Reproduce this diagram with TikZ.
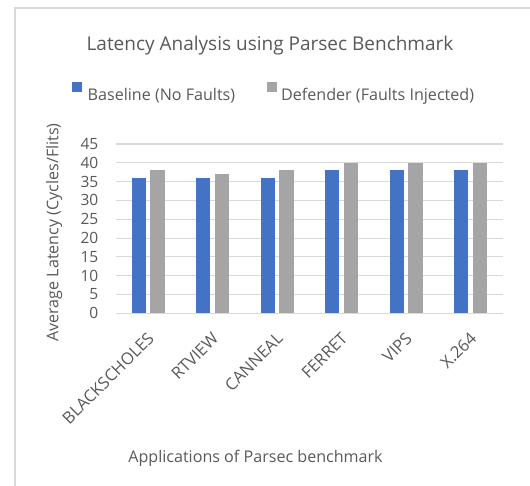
\documentclass[tikz,border=0pt]{standalone}
\usepackage{fontspec}
\setmainfont{Open Sans}
\definecolor{basecol}{HTML}{4472C4}
\definecolor{defcol}{HTML}{A5A5A5}
\definecolor{gridcol}{HTML}{D9D9D9}
\definecolor{framecol}{HTML}{D9D9D9}
\definecolor{txtcol}{HTML}{595959}
\tikzset{
  frameline/.style={draw=framecol, line width=1.3pt},
  gridline/.style={draw=gridcol, line width=1.1pt},
  basebar/.style={fill=basecol},
  defbar/.style={fill=defcol},
  titletext/.style={text=txtcol, font=\fontsize{19}{23}\selectfont, inner sep=0pt},
  legtext/.style={text=txtcol, font=\fontsize{16.1}{19}\selectfont, inner sep=0pt, anchor=base west},
  ticktext/.style={text=txtcol, font=\fontsize{15.5}{19}\selectfont, inner sep=0pt, anchor=east},
  cattext/.style={text=txtcol, font=\fontsize{16.5}{19}\selectfont, inner sep=0pt, anchor=east, rotate=45},
  axistext/.style={text=txtcol, font=\fontsize{16.1}{19}\selectfont, inner sep=0pt, anchor=base},
}
\begin{document}
\begin{tikzpicture}[x=1pt, y=-1pt]
\useasboundingbox (0,0) rectangle (530,485);
% chart frame (left and top edges)
\draw[frameline] (15,486) -- (15,8) -- (531,8);

% title
\node[titletext, anchor=base] (title) at (270,50.7) {Latency Analysis using Parsec Benchmark};

% legend
\fill[basecol] (72.3,82.3) rectangle (82.3,91.7);
\node[legtext] (legbase) at (87.5,100.5) {Baseline (No Faults)};
\fill[defcol] (266.7,82.3) rectangle (276.7,91.7);
\node[legtext] (legdef) at (281,100.5) {Defender (Faults Injected)};

% value gridlines and tick labels (zero at y=313.3, 3.762 px per unit)
\foreach \v in {0,5,...,45} {
  \draw[gridline] (115.7,{313.3-3.762*\v}) -- (502.7,{313.3-3.762*\v});
  \node[ticktext] (tick\v) at (98.5,{313.3-3.762*\v}) {\v};
}

% bars: baseline and defender per application
\foreach \i/\b/\d/\name in {0/36/38/BLACKSCHOLES, 1/36/37/RTVIEW, 2/36/38/CANNEAL,
                            3/38/40/FERRET, 4/38/40/VIPS, 5/38/40/X.264} {
  \pgfmathsetmacro{\cx}{148+64.5*\i}
  \fill[basebar] ({\cx-16.5},313.3) rectangle ({\cx-2.2},{313.3-3.762*\b});
  \fill[defbar] ({\cx+2.2},313.3) rectangle ({\cx+16.5},{313.3-3.762*\d});
  \node[cattext] (cat\i) at ({\cx+3},335.5) {\name};
}

% axis titles
\node[axistext, rotate=90] (ytitle) at (58.3,232.5) {Average Latency (Cycles/Flits)};
\node[axistext] (xtitle) at (255.5,462.5) {Applications of Parsec benchmark};
\end{tikzpicture}
\end{document}
